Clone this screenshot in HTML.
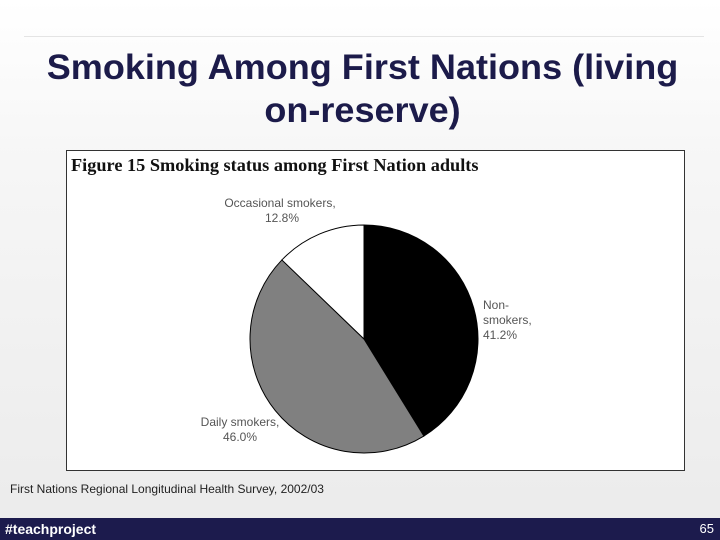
<!DOCTYPE html>
<html><head><meta charset="utf-8"><style>
body{margin:0;width:720px;height:540px;overflow:hidden;font-family:"Liberation Sans",sans-serif;background:linear-gradient(#ffffff,#f6f6f6 30%,#ebebeb);position:relative}
.abs{position:absolute}
</style></head><body>
<div class="abs" style="left:24px;top:36px;width:680px;height:1px;background:#e4e4e4"></div>
<div class="abs" style="left:0;top:46px;width:725px;text-align:center;font-size:35px;font-weight:bold;color:#1c1b4a;line-height:43px;transform:scaleX(1.03);transform-origin:362px 0">Smoking Among First Nations (living<br>on-reserve)</div>
<svg class="abs" style="left:0;top:0" width="720" height="540">
<rect x="66.5" y="150.5" width="618" height="320" fill="#fff" stroke="#333"/>
<text x="71" y="171" font-family="Liberation Serif,serif" font-weight="bold" font-size="18.3" fill="#111">Figure 15 Smoking status among First Nation adults</text>
<g id="slices"></g>
<g font-size="12" fill="#555">
<text x="280" y="207" text-anchor="middle">Occasional smokers,</text>
<text x="282" y="222" text-anchor="middle">12.8%</text>
<text x="483" y="309">Non-</text>
<text x="483" y="324">smokers,</text>
<text x="483" y="339">41.2%</text>
<text x="240" y="426" text-anchor="middle">Daily smokers,</text>
<text x="240" y="441" text-anchor="middle">46.0%</text>
</g>
</svg>
<div class="abs" style="left:10px;top:482px;font-size:12px;color:#222">First Nations Regional Longitudinal Health Survey, 2002/03</div>
<div class="abs" style="left:0;top:518px;width:720px;height:22px;background:#1c1b4d;color:#fff;font-size:14px">
<span class="abs" style="left:5px;top:3px;font-weight:bold">#teachproject</span>
<span class="abs" style="right:6px;top:3px;font-size:13px">65</span>
</div>
<script>
const categories=["Non-smokers","Daily smokers","Occasional smokers"];
const values=[41.2,46.0,12.8];
const colors=["#000000","#808080","#ffffff"];
const cx=364,cy=339,r=114;
const g=document.getElementById('slices');
const total=values.reduce((a,b)=>a+b,0);
let a0=-Math.PI/2;
values.forEach((v,i)=>{
  const a1=a0+v/total*2*Math.PI;
  const x0=cx+r*Math.cos(a0),y0=cy+r*Math.sin(a0),x1=cx+r*Math.cos(a1),y1=cy+r*Math.sin(a1);
  const p=document.createElementNS('http://www.w3.org/2000/svg','path');
  p.setAttribute('d',`M${cx},${cy}L${x0},${y0}A${r},${r} 0 ${a1-a0>Math.PI?1:0} 1 ${x1},${y1}Z`);
  p.setAttribute('fill',colors[i]);p.setAttribute('stroke','#000');p.setAttribute('stroke-width','1');
  
  
  g.appendChild(p);a0=a1;
});
</script>
</body></html>
